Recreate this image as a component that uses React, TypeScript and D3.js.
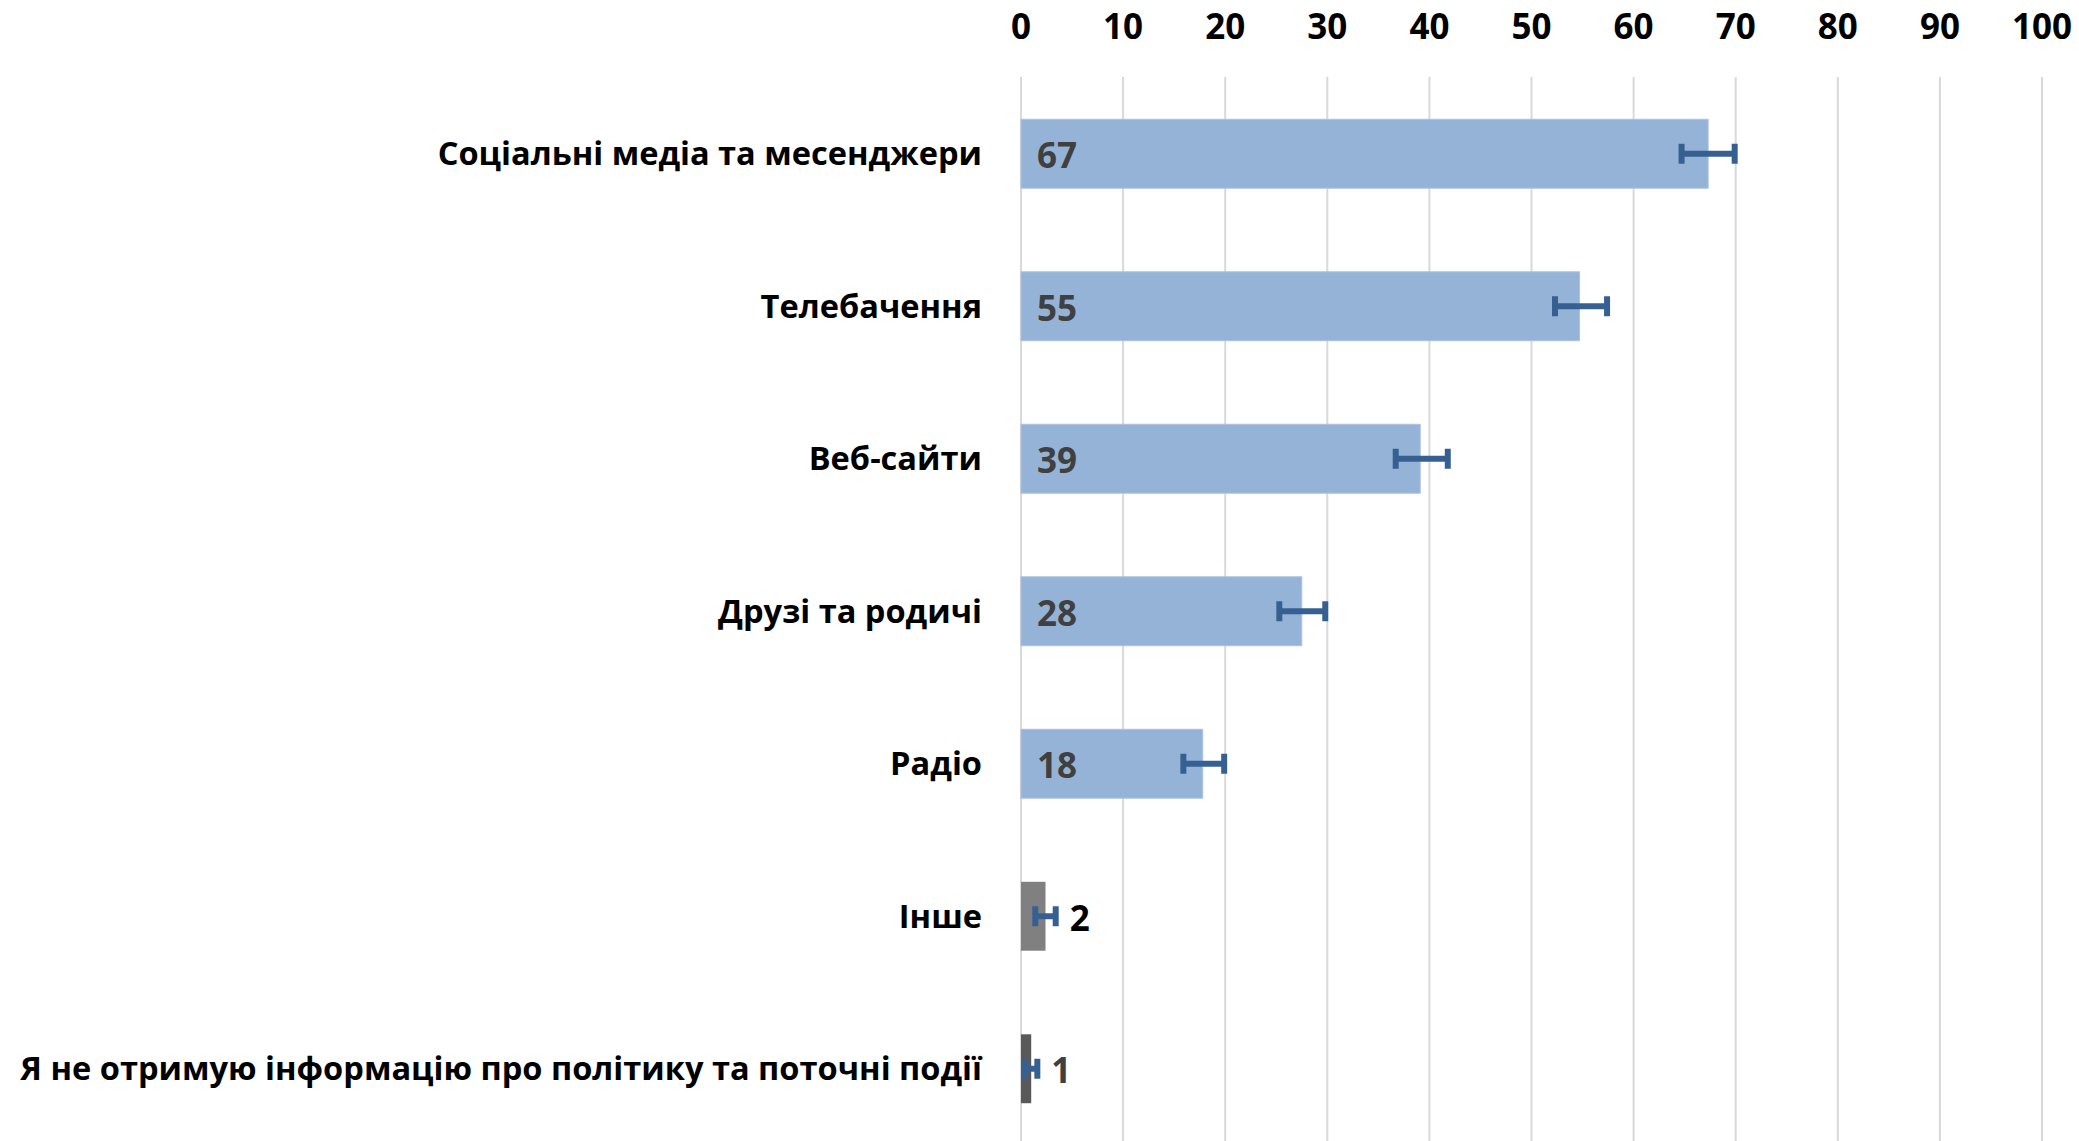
import React from 'react';
import * as d3 from 'd3';

const categories = [
  'Соціальні медіа та месенджери',
  'Телебачення',
  'Веб-сайти',
  'Друзі та родичі',
  'Радіо',
  'Інше',
  'Я не отримую інформацію про політику та поточні події',
];
const values = [67.3, 54.7, 39.1, 27.5, 17.8, 2.4, 1.0];
const labels = ['67', '55', '39', '28', '18', '2', '1'];
const errLow = [64.7, 52.3, 36.7, 25.3, 15.9, 1.4, 0.4];
const errHigh = [69.9, 57.4, 41.8, 29.8, 19.9, 3.4, 1.6];
const barColors = ['#95B3D7', '#95B3D7', '#95B3D7', '#95B3D7', '#95B3D7', '#808080', '#595959'];
const ticks = [0, 10, 20, 30, 40, 50, 60, 70, 80, 90, 100];

const W = 2079;
const H = 1141;
const FONT = '"Open Sans", "Noto Sans", sans-serif';

export default function App() {
  const x = d3.scaleLinear().domain([0, 100]).range([1021, 2042]);
  const y = d3.scaleBand<string>().domain(categories).range([77.5, 1145]).paddingInner(0.548).paddingOuter(0.274);
  const bh = y.bandwidth();
  return (
    <svg width={W} height={H} style={{ position: 'absolute', left: 0, top: 0, background: '#fff' }}>
      {ticks.map((t) => (
        <g key={t}>
          <line x1={x(t)} x2={x(t)} y1={77} y2={H} stroke="#D9D9D9" strokeWidth={2} />
          <text x={x(t)} y={26} dy="0.36em" textAnchor="middle" fontFamily={FONT} fontWeight="bold" fontSize={35} fill="#000">
            {t}
          </text>
        </g>
      ))}
      {categories.map((c, i) => {
        const yc = (y(c) as number) + bh / 2;
        const small = values[i] < 5;
        return (
          <g key={c}>
            <rect x={x(0)} y={y(c)} width={x(values[i]) - x(0)} height={bh} fill={barColors[i]} stroke={i < 5 ? '#A9C2E0' : 'none'} strokeWidth={1} />
            <line x1={x(errLow[i])} x2={x(errHigh[i])} y1={yc} y2={yc} stroke="#366092" strokeWidth={6} />
            <line x1={x(errLow[i])} x2={x(errLow[i])} y1={yc - 10} y2={yc + 10} stroke="#366092" strokeWidth={6} />
            <line x1={x(errHigh[i])} x2={x(errHigh[i])} y1={yc - 10} y2={yc + 10} stroke="#366092" strokeWidth={6} />
            <text
              x={small ? x(errHigh[i]) + 14 : x(0) + 16}
              y={yc + 2}
              dy="0.36em"
              fontFamily={FONT}
              fontWeight="bold"
              fontSize={35}
              fill={i === 5 ? '#000' : '#404040'}
            >
              {labels[i]}
            </text>
            <text x={982} y={yc} dy="0.36em" textAnchor="end" fontFamily={FONT} fontWeight="bold" fontSize={32.6} fill="#000">
              {c}
            </text>
          </g>
        );
      })}
    </svg>
  );
}
